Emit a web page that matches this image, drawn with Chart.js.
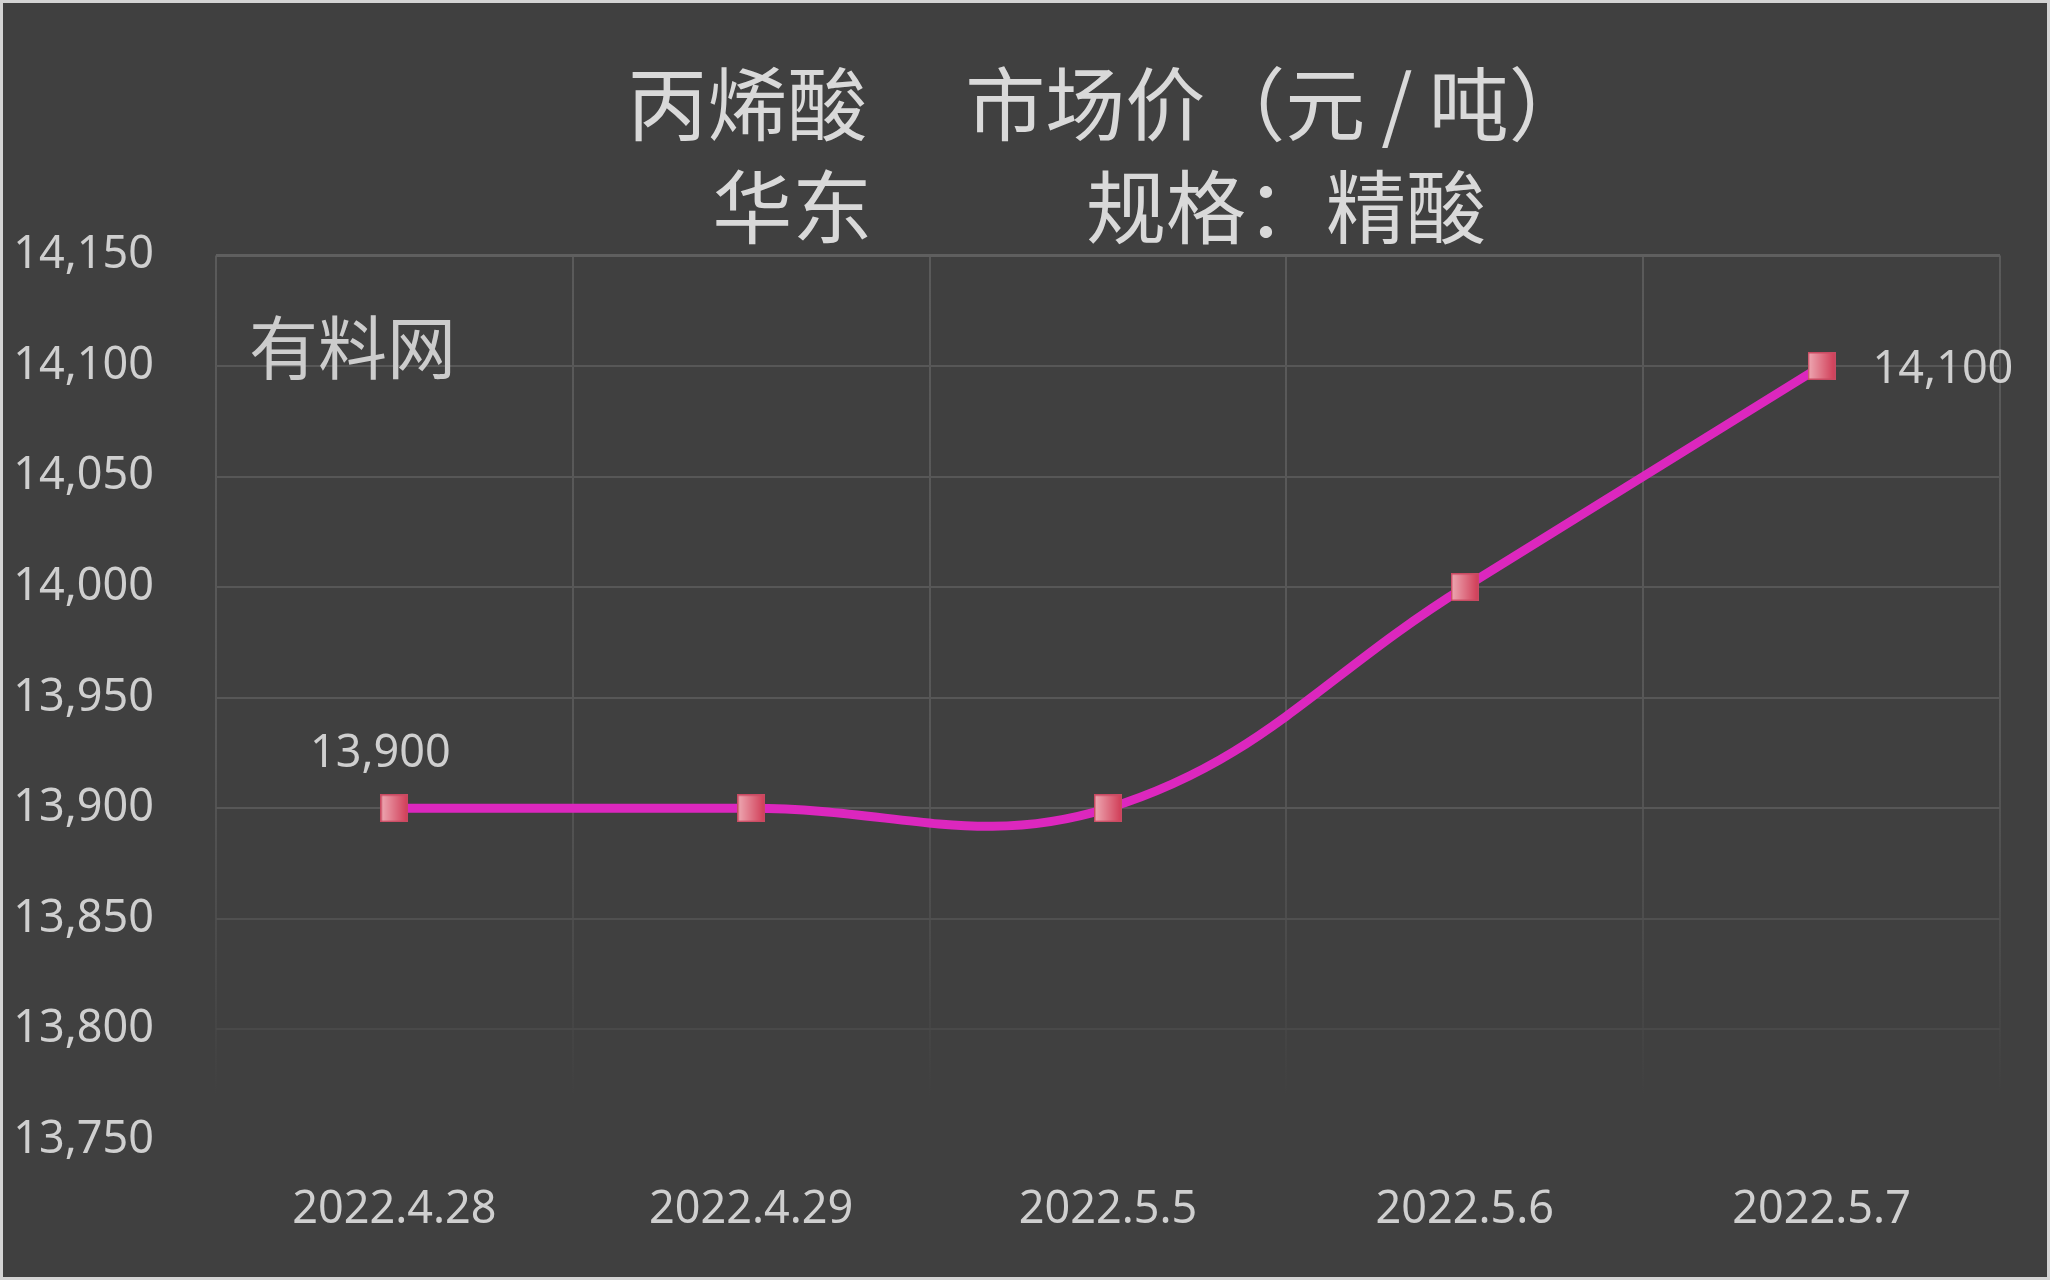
<!DOCTYPE html>
<html><head><meta charset="utf-8">
<script src="https://cdn.jsdelivr.net/npm/chart.js@4/dist/chart.umd.min.js"></script>
<style>html,body{margin:0;padding:0;background:#404040;}canvas{display:block}</style>
</head><body>
<canvas id="c" width="2050" height="1280"></canvas>
<script>
// ---- data ----
const categories = ['2022.4.28', '2022.4.29', '2022.5.5', '2022.5.6', '2022.5.7'];
const prices = [13900, 13900, 13900, 14000, 14100];
const yTickValues = [13750, 13800, 13850, 13900, 13950, 14000, 14050, 14100, 14150];
const titleLines = ['丙烯酸\u3000 市场价（元\u2009/\u2009吨）', '华东\u3000\u3000   规格：精酸 '];
const watermarkText = '有料网';
const labeledPoints = [0, 4];

// ---- styles ----
const BG = '#404040';
const TEXT = '#cfcfcf';
const LATIN = '"Noto Sans", "Open Sans", sans-serif';
const CJK = '"Noto Sans CJK SC", "Noto Sans", sans-serif';

// marker image (square with horizontal gradient)
function makeMarker(size) {
  const c = document.createElement('canvas');
  c.width = size; c.height = size;
  const g = c.getContext('2d');
  const grad = g.createLinearGradient(0, 0, size, 0);
  grad.addColorStop(0, '#eeaab4');
  grad.addColorStop(1, '#d03a55');
  g.fillStyle = grad;
  g.fillRect(0, 0, size, size);
  g.strokeStyle = '#c94a62';
  g.lineWidth = 1.5;
  g.strokeRect(0.75, 0.75, size - 1.5, size - 1.5);
  return c;
}
const marker = makeMarker(28);

const bgPlugin = {
  id: 'bg',
  beforeDraw(chart) {
    const ctx = chart.ctx;
    ctx.save();
    ctx.fillStyle = BG;
    ctx.fillRect(0, 0, chart.width, chart.height);
    ctx.restore();
  },
  afterDraw(chart) {
    const ctx = chart.ctx;
    ctx.save();
    ctx.strokeStyle = '#d4d4d4';
    ctx.lineWidth = 3;
    ctx.strokeRect(1.5, 1.5, chart.width - 3, chart.height - 3);
    ctx.restore();
  }
};

const watermarkPlugin = {
  id: 'watermark',
  beforeDatasetsDraw(chart) {
    const ctx = chart.ctx;
    const ca = chart.chartArea;
    ctx.save();
    ctx.font = '69px ' + CJK;
    ctx.fillStyle = '#cccccc';
    ctx.textAlign = 'left';
    ctx.textBaseline = 'middle';
    ctx.fillText(watermarkText, ca.left + 33, ca.top + 92);
    ctx.restore();
  }
};

const labelPlugin = {
  id: 'pointLabels',
  afterDatasetsDraw(chart) {
    const ctx = chart.ctx;
    const meta = chart.getDatasetMeta(0);
    ctx.save();
    ctx.font = '45px ' + LATIN;
    ctx.fillStyle = TEXT;
    ctx.textBaseline = 'alphabetic';
    labeledPoints.forEach((i, k) => {
      const pt = meta.data[i];
      const txt = prices[i].toLocaleString('en-US');
      if (k === 0) {
        ctx.textAlign = 'center';
        ctx.fillText(txt, pt.x - 14, pt.y - 41);
      } else {
        ctx.textAlign = 'left';
        ctx.fillText(txt, pt.x + 51, pt.y + 17);
      }
    });
    ctx.restore();
  }
};

function yGridColor(ctx) {
  const v = ctx.tick ? ctx.tick.value : 0;
  if (v >= 14150) return '#5f5f5f';
  if (v >= 13900) return '#575757';
  if (v >= 13850) return '#505050';
  if (v >= 13800) return '#494949';
  return 'rgba(0,0,0,0)';
}
function xGridColor(ctx) {
  const chart = ctx.chart;
  const ca = chart.chartArea;
  if (!ca) return '#575757';
  const g = chart.ctx.createLinearGradient(0, ca.top, 0, ca.bottom);
  g.addColorStop(0, '#5a5a5a');
  g.addColorStop(0.55, '#575757');
  g.addColorStop(0.8, '#4a4a4a');
  g.addColorStop(0.95, '#404040');
  g.addColorStop(1, '#404040');
  return g;
}

new Chart(document.getElementById('c'), {
  type: 'line',
  data: {
    labels: categories,
    datasets: [{
      data: prices,
      borderColor: '#dc27be',
      borderWidth: 9,
      tension: 0.4,
      pointStyle: marker,
      pointRadius: 14,
      pointHoverRadius: 14,
      fill: false
    }]
  },
  options: {
    responsive: false,
    animation: false,
    devicePixelRatio: 1,
    layout: { padding: { top: 0, left: 0, right: 50, bottom: 0 } },
    plugins: {
      legend: { display: false },
      tooltip: { enabled: false },
      title: {
        display: true,
        fullSize: false,
        text: titleLines,
        color: '#d9d9d9',
        font: { family: CJK, size: 80, weight: 'normal', lineHeight: 1.29 },
        padding: { top: 52, bottom: -3 }
      }
    },
    scales: {
      x: {
        offset: true,
        afterFit(s) { s.height = 140; },
        grid: { offset: true, drawTicks: false, color: xGridColor, lineWidth: 2 },
        border: { display: false },
        ticks: { color: TEXT, font: { family: LATIN, size: 45 }, padding: 43, maxRotation: 0 }
      },
      y: {
        min: 13750,
        max: 14150,
        afterFit(s) { s.width = 216; },
        afterBuildTicks(s) { s.ticks = yTickValues.map(v => ({ value: v })); },
        grid: { drawTicks: false, color: yGridColor, lineWidth: (c) => (c.tick && c.tick.value >= 14150 ? 3 : 2) },
        border: { display: false },
        ticks: {
          color: TEXT,
          font: { family: LATIN, size: 45 },
          padding: 62,
          callback: (v) => Number(v).toLocaleString('en-US')
        }
      }
    }
  },
  plugins: [bgPlugin, watermarkPlugin, labelPlugin]
});
</script>
</body></html>
